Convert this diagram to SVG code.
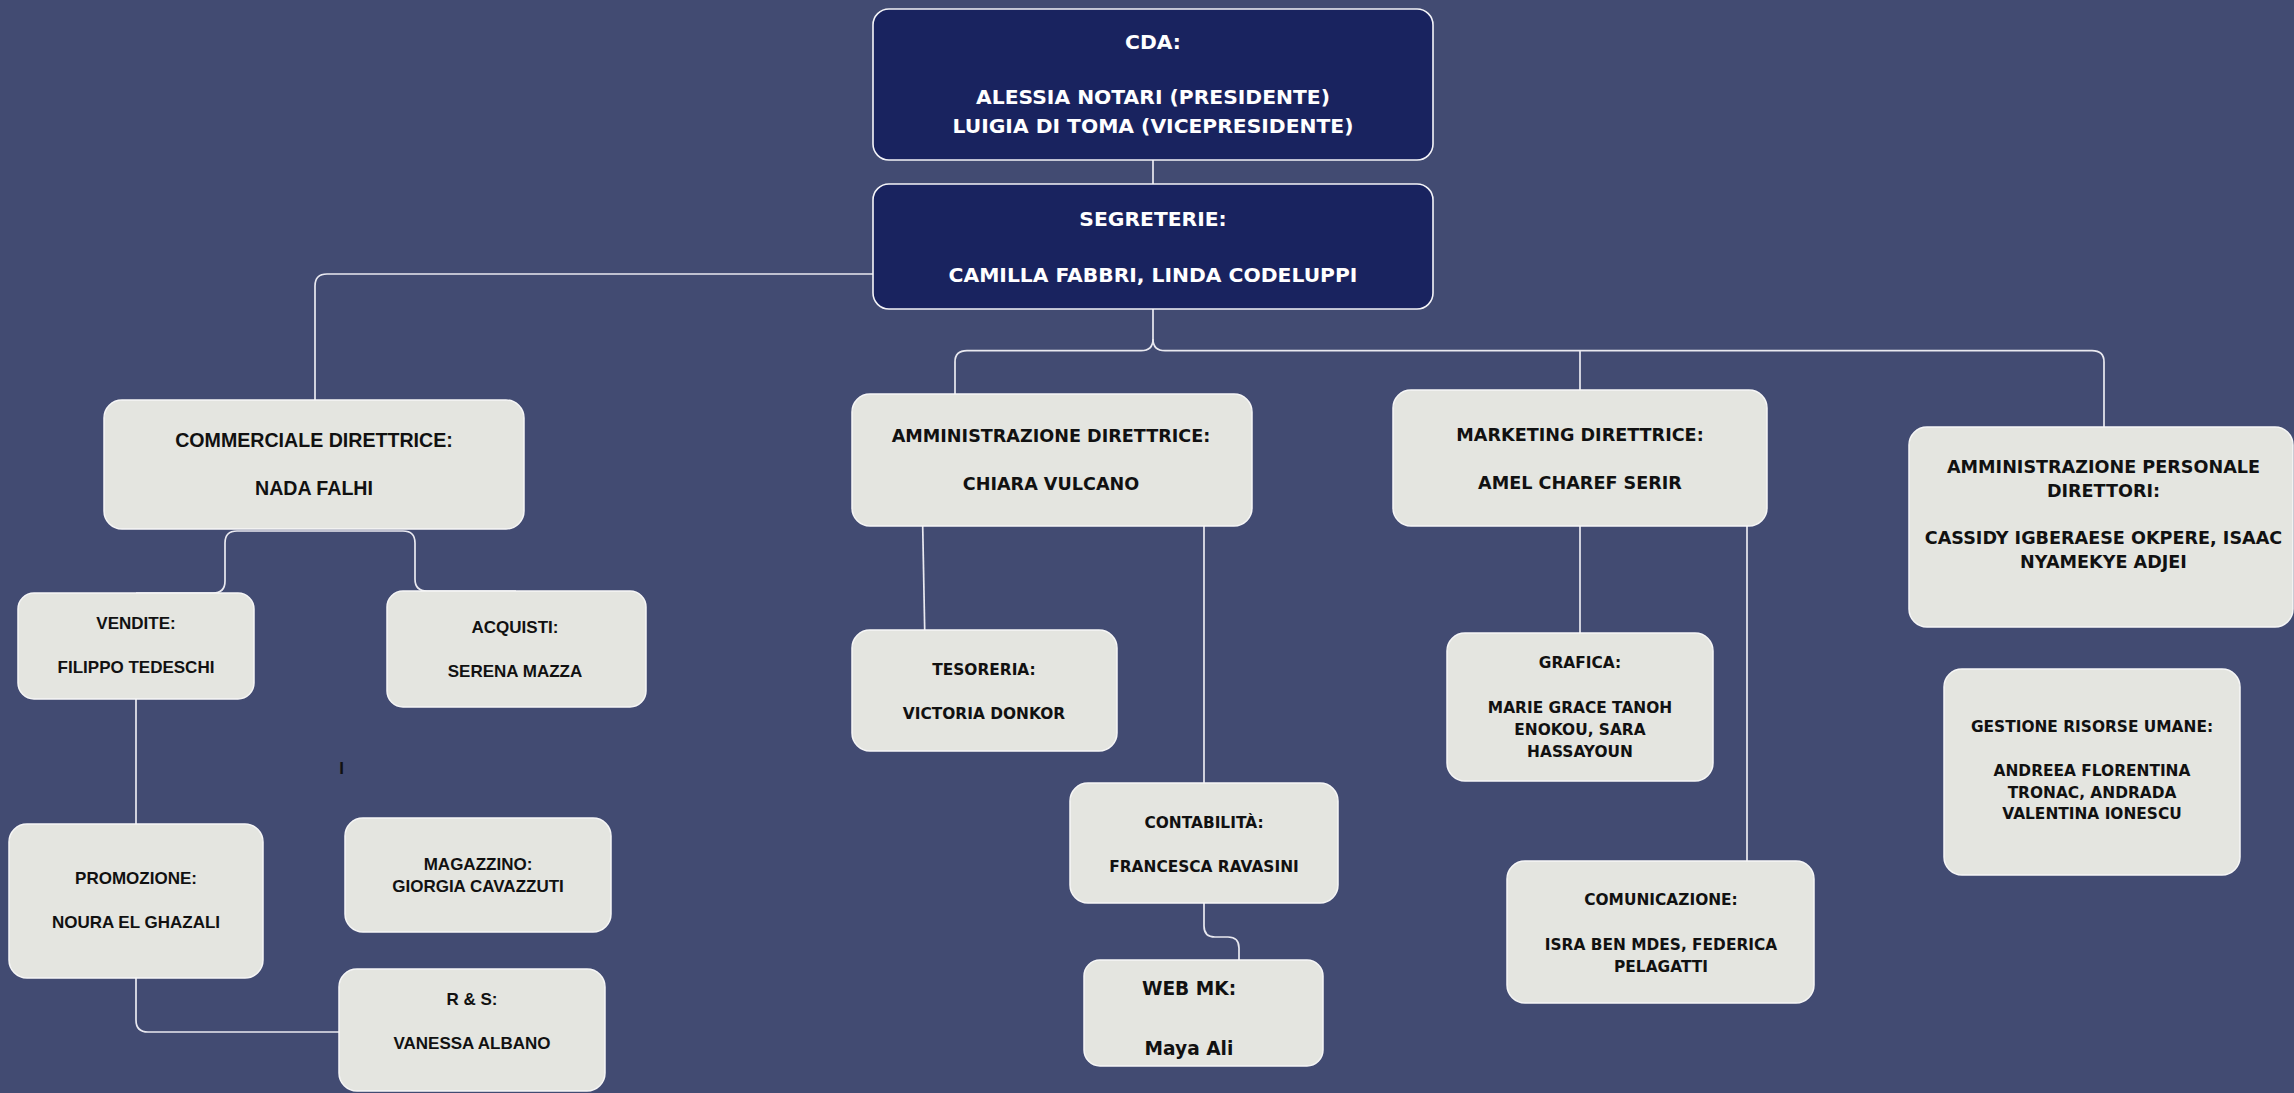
<svg xmlns="http://www.w3.org/2000/svg" width="2294" height="1093" viewBox="0 0 2294 1093">
<style>
.bg{fill:#424b72}
.dark{fill:#19235f;stroke:#f4f4f8;stroke-width:1.6}
.light{fill:#e4e5e0;stroke:#f6f6f6;stroke-width:1.5}
.conn{fill:none;stroke:#e9e9f0;stroke-width:1.7}
.tw{font-family:"DejaVu Sans",sans-serif;font-weight:bold;fill:#ffffff;text-anchor:middle;font-size:20.3px}
.tc{font-family:"Liberation Sans",Arial,sans-serif;font-weight:bold;fill:#111111;text-anchor:middle}
.td{font-family:"DejaVu Sans",sans-serif;font-weight:bold;fill:#111111;text-anchor:middle}
.s196{font-size:19.6px}
.s17{font-size:17px}
.s176{font-size:17.6px}
.s154{font-size:15.4px}
.s186{font-size:18.6px}
</style>
<rect class="bg" x="0" y="0" width="2294" height="1093"/>

<g id="connectors">
<path class="conn" d="M1153,160 V184"/>
<path class="conn" d="M873,274 H327 Q315,274 315,286 V400"/>
<path class="conn" d="M1153,309 V339 Q1153,350.7 1141,350.7 H967 Q955,350.7 955,362 V394"/>
<path class="conn" d="M1153,339 Q1153,350.7 1165,350.7 H2092 Q2104,350.7 2104,362 V427"/>
<path class="conn" d="M1580,350.7 V390"/>
<path class="conn" d="M136,593 H213 Q225,593 225,581 V543 Q225,531 237,531 H403 Q415,531 415,543 V579 Q415,591 427,591 H516"/>
<path class="conn" d="M136,699 V824"/>
<path class="conn" d="M136,978 V1020 Q136,1032 148,1032 H339"/>
<path class="conn" d="M922.7,526 L924.7,630"/>
<path class="conn" d="M1204,526 V783"/>
<path class="conn" d="M1204,903 V926 Q1204,937 1215,937 H1228 Q1239,937 1239,948 V960"/>
<path class="conn" d="M1580,526 V633"/>
<path class="conn" d="M1747,526 V881"/>
</g>

<g id="cda">
<rect class="dark" x="873" y="9" width="560" height="151" rx="16"/>
<text class="tw" x="1153" y="49">CDA:</text>
<text class="tw" x="1153" y="104">ALESSIA NOTARI (PRESIDENTE)</text>
<text class="tw" x="1153" y="133">LUIGIA DI TOMA (VICEPRESIDENTE)</text>
</g>

<g id="segreterie">
<rect class="dark" x="873" y="184" width="560" height="125" rx="16"/>
<text class="tw" x="1153" y="226">SEGRETERIE:</text>
<text class="tw" x="1153" y="282">CAMILLA FABBRI, LINDA CODELUPPI</text>
</g>

<g id="commerciale">
<rect class="light" x="104" y="400" width="420" height="129" rx="18"/>
<text class="tc s196" x="314" y="446.5">COMMERCIALE DIRETTRICE:</text>
<text class="tc s196" x="314" y="495">NADA FALHI</text>
</g>

<g id="vendite">
<rect class="light" x="18" y="593" width="236" height="106" rx="16"/>
<text class="tc s17" x="136" y="629">VENDITE:</text>
<text class="tc s17" x="136" y="673">FILIPPO TEDESCHI</text>
</g>

<g id="acquisti">
<rect class="light" x="387" y="591" width="259" height="116" rx="16"/>
<text class="tc s17" x="515" y="633">ACQUISTI:</text>
<text class="tc s17" x="515" y="677">SERENA MAZZA</text>
</g>

<g id="promozione">
<rect class="light" x="9" y="824" width="254" height="154" rx="18"/>
<text class="tc s17" x="136" y="884">PROMOZIONE:</text>
<text class="tc s17" x="136" y="928">NOURA EL GHAZALI</text>
</g>

<g id="magazzino">
<rect class="light" x="345" y="818" width="266" height="114" rx="18"/>
<text class="tc s17" x="478" y="870">MAGAZZINO:</text>
<text class="tc s17" x="478" y="892">GIORGIA CAVAZZUTI</text>
</g>

<g id="rs">
<rect class="light" x="339" y="969" width="266" height="122" rx="18"/>
<text class="tc s17" x="472" y="1005">R &amp; S:</text>
<text class="tc s17" x="472" y="1049">VANESSA ALBANO</text>
</g>

<text x="341.5" y="774" font-family="Liberation Sans, Arial, sans-serif" font-weight="bold" font-size="17" fill="#111111" text-anchor="middle">I</text>

<g id="amministrazione">
<rect class="light" x="852" y="394" width="400" height="132" rx="18"/>
<text class="td s176" x="1051" y="442">AMMINISTRAZIONE DIRETTRICE:</text>
<text class="td s176" x="1051" y="490">CHIARA VULCANO</text>
</g>

<g id="tesoreria">
<rect class="light" x="852" y="630" width="265" height="121" rx="18"/>
<text class="td s154" x="984" y="674.5">TESORERIA:</text>
<text class="td s154" x="984" y="718.5">VICTORIA DONKOR</text>
</g>

<g id="contabilita">
<rect class="light" x="1070" y="783" width="268" height="120" rx="18"/>
<text class="td s154" x="1204" y="828">CONTABILITÀ:</text>
<text class="td s154" x="1204" y="872">FRANCESCA RAVASINI</text>
</g>

<g id="webmk">
<rect class="light" x="1084" y="960" width="239" height="106" rx="16"/>
<text class="td s186" x="1189" y="994.5">WEB MK:</text>
<text class="td s186" x="1189" y="1055">Maya Ali</text>
</g>

<g id="marketing">
<rect class="light" x="1393" y="390" width="374" height="136" rx="18"/>
<text class="td s176" x="1580" y="441">MARKETING DIRETTRICE:</text>
<text class="td s176" x="1580" y="488.5">AMEL CHAREF SERIR</text>
</g>

<g id="grafica">
<rect class="light" x="1447" y="633" width="266" height="148" rx="18"/>
<text class="td s154" x="1580" y="668">GRAFICA:</text>
<text class="td s154" x="1580" y="712.5">MARIE GRACE TANOH</text>
<text class="td s154" x="1580" y="734.5">ENOKOU, SARA</text>
<text class="td s154" x="1580" y="756.5">HASSAYOUN</text>
</g>

<g id="comunicazione">
<rect class="light" x="1507" y="861" width="307" height="142" rx="18"/>
<text class="td s154" x="1661" y="905">COMUNICAZIONE:</text>
<text class="td s154" x="1661" y="950">ISRA BEN MDES, FEDERICA</text>
<text class="td s154" x="1661" y="971.5">PELAGATTI</text>
</g>

<g id="amministrazione-personale">
<rect class="light" x="1909" y="427" width="384" height="200" rx="18"/>
<text class="td s176" x="2103.5" y="473">AMMINISTRAZIONE PERSONALE</text>
<text class="td s176" x="2103.5" y="497">DIRETTORI:</text>
<text class="td s176" x="2103.5" y="544">CASSIDY IGBERAESE OKPERE, ISAAC</text>
<text class="td s176" x="2103.5" y="568">NYAMEKYE ADJEI</text>
</g>

<g id="gestione-risorse-umane">
<rect class="light" x="1944" y="669" width="296" height="206" rx="18"/>
<text class="td s154" x="2092" y="732">GESTIONE RISORSE UMANE:</text>
<text class="td s154" x="2092" y="776">ANDREEA FLORENTINA</text>
<text class="td s154" x="2092" y="798">TRONAC, ANDRADA</text>
<text class="td s154" x="2092" y="819">VALENTINA IONESCU</text>
</g>
</svg>
